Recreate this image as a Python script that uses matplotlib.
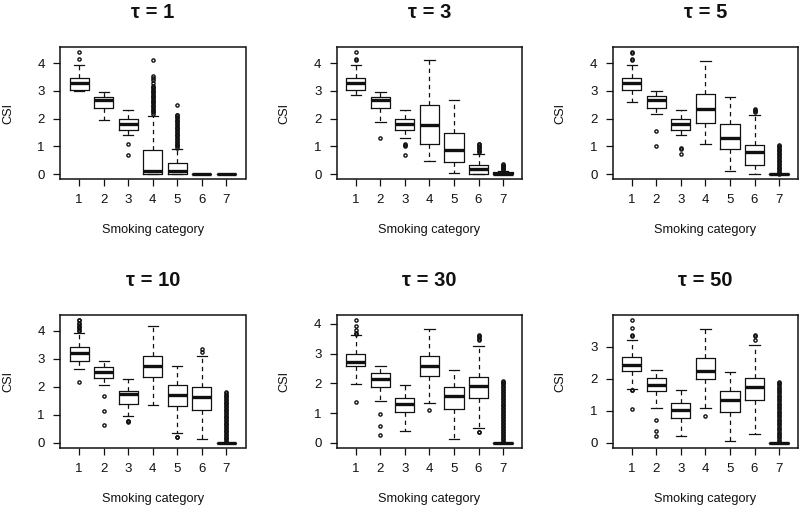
import matplotlib
matplotlib.use("Agg")
import matplotlib.pyplot as plt
from matplotlib.ticker import MultipleLocator

plt.rcParams['font.family'] = ['Liberation Sans', 'DejaVu Sans']

categories = [1, 2, 3, 4, 5, 6, 7]
taus = [1, 3, 5, 10, 30, 50]

# ---- tau = 1 ----
lo_t1 = [3.00, 1.95, 1.40, 0.00, 0.00, 0.00, 0.00]
q1_t1 = [3.02, 2.39, 1.59, 0.00, 0.00, 0.00, 0.00]
med_t1 = [3.28, 2.66, 1.82, 0.13, 0.11, 0.00, 0.00]
q3_t1 = [3.45, 2.80, 1.98, 0.87, 0.41, 0.00, 0.00]
hi_t1 = [3.93, 2.98, 2.30, 2.10, 0.92, 0.00, 0.00]
fl_t1 = [[4.14, 4.41], [], [1.10, 0.69],
         [2.18, 2.23, 2.27, 2.32, 2.36, 2.41, 2.46, 2.50, 2.55, 2.59, 2.64,
          2.68, 2.73, 2.78, 2.82, 2.87, 2.91, 2.96, 3.01, 3.05, 3.10, 3.14,
          3.19, 3.30, 3.40, 3.45, 3.54, 4.12],
         [0.95, 1.00, 1.05, 1.10, 1.15, 1.20, 1.26, 1.31, 1.36, 1.41, 1.46,
          1.51, 1.56, 1.61, 1.66, 1.71, 1.76, 1.82, 1.87, 1.92, 1.97, 2.02,
          2.07, 2.12, 2.15, 2.49],
         [], []]

# ---- tau = 3 ----
lo_t3 = [2.84, 1.88, 1.31, 0.49, 0.05, 0.00, 0.00]
q1_t3 = [3.02, 2.39, 1.59, 1.10, 0.43, 0.02, 0.00]
med_t3 = [3.28, 2.66, 1.82, 1.76, 0.86, 0.17, 0.00]
q3_t3 = [3.45, 2.80, 1.98, 2.49, 1.49, 0.33, 0.06]
hi_t3 = [3.93, 2.98, 2.30, 4.11, 2.66, 0.73, 0.13]
fl_t3 = [[4.14, 4.12, 4.41], [1.31], [1.07, 1.04, 1.00, 0.69],
         [], [],
         [0.78, 0.83, 0.88, 0.93, 0.98, 1.03, 1.07, 1.10],
         [0.15, 0.19, 0.23, 0.27, 0.31, 0.34, 0.36]]

# ---- tau = 5 ----
lo_t5 = [2.61, 2.16, 1.41, 1.10, 0.11, 0.00, 0.00]
q1_t5 = [3.02, 2.39, 1.59, 1.83, 0.92, 0.34, 0.00]
med_t5 = [3.28, 2.66, 1.82, 2.36, 1.31, 0.80, 0.00]
q3_t5 = [3.45, 2.80, 1.98, 2.88, 1.80, 1.04, 0.00]
hi_t5 = [3.93, 2.98, 2.30, 4.08, 2.76, 2.12, 0.00]
fl_t5 = [[4.14, 4.12, 4.37, 4.40], [1.55, 1.01], [0.92, 0.94, 0.71],
         [], [],
         [2.22, 2.26, 2.30, 2.34],
         [0.02, 0.07, 0.12, 0.17, 0.22, 0.27, 0.32, 0.37, 0.42, 0.47, 0.52,
          0.57, 0.62, 0.67, 0.72, 0.77, 0.82, 0.87, 0.92, 0.97, 1.01, 1.04]]

# ---- tau = 10 ----
lo_t10 = [2.64, 2.05, 0.95, 1.33, 0.34, 0.13, 0.00]
q1_t10 = [2.93, 2.31, 1.40, 2.34, 1.31, 1.16, 0.00]
med_t10 = [3.20, 2.52, 1.74, 2.72, 1.69, 1.63, 0.00]
q3_t10 = [3.40, 2.70, 1.86, 3.09, 2.06, 1.99, 0.00]
hi_t10 = [3.91, 2.90, 2.27, 4.17, 2.75, 3.08, 0.00]
fl_t10 = [[4.00, 4.03, 4.08, 4.13, 4.18, 4.22, 4.26, 4.36, 4.38, 2.15],
          [1.68, 1.12, 0.64], [0.79, 0.76, 0.73],
          [], [0.21, 0.19],
          [3.25, 3.34],
          [0.02, 0.07, 0.12, 0.17, 0.22, 0.27, 0.32, 0.37, 0.42, 0.47, 0.52,
           0.57, 0.62, 0.67, 0.72, 0.77, 0.82, 0.87, 0.92, 0.97, 1.02, 1.07,
           1.12, 1.17, 1.22, 1.27, 1.32, 1.37, 1.42, 1.47, 1.52, 1.57, 1.62,
           1.67, 1.72, 1.77, 1.81]]

# ---- tau = 30 ----
lo_t30 = [1.97, 1.42, 0.38, 1.33, 0.12, 0.49, 0.00]
q1_t30 = [2.58, 1.89, 1.04, 2.25, 1.15, 1.49, 0.00]
med_t30 = [2.73, 2.13, 1.30, 2.57, 1.58, 1.92, 0.00]
q3_t30 = [3.00, 2.34, 1.50, 2.91, 1.87, 2.22, 0.00]
hi_t30 = [3.63, 2.59, 1.93, 3.82, 2.45, 3.24, 0.00]
fl_t30 = [[3.66, 3.68, 3.78, 3.93, 4.13, 1.37], [0.96, 0.57, 0.27], [],
          [1.11], [],
          [3.46, 3.50, 3.55, 3.59, 3.63, 0.35, 0.37],
          [0.02, 0.07, 0.12, 0.17, 0.22, 0.27, 0.32, 0.37, 0.42, 0.47, 0.52,
           0.57, 0.62, 0.67, 0.72, 0.77, 0.82, 0.87, 0.92, 0.97, 1.02, 1.07,
           1.12, 1.17, 1.22, 1.27, 1.32, 1.37, 1.42, 1.47, 1.52, 1.57, 1.62,
           1.67, 1.72, 1.77, 1.82, 1.87, 1.92, 1.97, 2.01, 2.05, 2.09]]

# ---- tau = 50 ----
lo_t50 = [1.67, 1.08, 0.22, 1.08, 0.07, 0.28, 0.00]
q1_t50 = [2.24, 1.62, 0.77, 1.98, 0.96, 1.34, 0.00]
med_t50 = [2.43, 1.81, 1.03, 2.25, 1.32, 1.73, 0.00]
q3_t50 = [2.66, 2.01, 1.24, 2.64, 1.62, 2.02, 0.00]
hi_t50 = [3.21, 2.27, 1.65, 3.54, 2.20, 3.05, 0.00]
fl_t50 = [[3.33, 3.36, 3.57, 3.83, 1.65, 1.63, 1.05], [0.72, 0.38, 0.20], [],
          [0.84], [],
          [3.19, 3.33, 3.36],
          [0.02, 0.07, 0.12, 0.17, 0.22, 0.27, 0.32, 0.37, 0.42, 0.47, 0.52,
           0.57, 0.62, 0.67, 0.72, 0.77, 0.82, 0.87, 0.92, 0.97, 1.02, 1.07,
           1.12, 1.17, 1.22, 1.27, 1.32, 1.37, 1.42, 1.47, 1.52, 1.57, 1.62,
           1.67, 1.72, 1.77, 1.82, 1.87, 1.91]]

panels = [
    (lo_t1, q1_t1, med_t1, q3_t1, hi_t1, fl_t1),
    (lo_t3, q1_t3, med_t3, q3_t3, hi_t3, fl_t3),
    (lo_t5, q1_t5, med_t5, q3_t5, hi_t5, fl_t5),
    (lo_t10, q1_t10, med_t10, q3_t10, hi_t10, fl_t10),
    (lo_t30, q1_t30, med_t30, q3_t30, hi_t30, fl_t30),
    (lo_t50, q1_t50, med_t50, q3_t50, hi_t50, fl_t50),
]

W, H = 800, 511
fig = plt.figure(figsize=(W / 100, H / 100), dpi=100)

lefts = [60, 336.7, 612.7]
rows = [(47, 179), (315, 447.7)]
ax_w = 185.5

ink = '#111111'

for i, (tau, (lo, q1, med, q3, hi, fl)) in enumerate(zip(taus, panels)):
    r, c = divmod(i, 3)
    top, bot = rows[r]
    ax = fig.add_axes([lefts[c] / W, (H - bot) / H, ax_w / W, (bot - top) / H])
    stats = []
    for k in range(len(categories)):
        stats.append(dict(whislo=lo[k], q1=q1[k], med=med[k], q3=q3[k],
                          whishi=hi[k], fliers=fl[k], label=str(categories[k])))
    ax.bxp(stats, positions=categories, widths=0.78, capwidths=0.42,
           showfliers=True, manage_ticks=False,
           boxprops=dict(color=ink, linewidth=0.9),
           medianprops=dict(color=ink, linewidth=2.4, solid_capstyle='butt'),
           whiskerprops=dict(color=ink, linewidth=0.9, linestyle=(0, (3.5, 3))),
           capprops=dict(color=ink, linewidth=0.9),
           flierprops=dict(marker='o', markerfacecolor='none',
                           markeredgecolor=ink, markersize=2.3,
                           markeredgewidth=1.0, linestyle='none'))
    allv = lo + hi + [v for f in fl for v in f]
    vmin, vmax = min(allv), max(allv)
    pad = 0.04 * (vmax - vmin)
    ax.set_ylim(vmin - pad, vmax + pad)
    ax.set_xlim(0.22, 7.78)
    ax.set_xticks(categories)
    ax.set_xticklabels([str(v) for v in categories])
    ax.yaxis.set_major_locator(MultipleLocator(1))
    ax.tick_params(axis='both', direction='out', length=5, width=0.9,
                   colors=ink, labelsize=9.5, pad=6)
    for s in ax.spines.values():
        s.set_linewidth(1.1)
        s.set_color(ink)
    ax.set_xlabel('Smoking category', fontsize=9.2, color=ink, va='center')
    ax.xaxis.set_label_coords(0.5, -51 / (bot - top))
    ax.set_ylabel('CSI', fontsize=9.2, color=ink, va='center')
    ax.yaxis.set_label_coords(-52 / ax_w, 0.5)
    ax.text(0.5, 1 + 29.5 / (bot - top), '\u03c4 = %d' % tau,
            transform=ax.transAxes, ha='center', va='baseline',
            fontsize=14.5, fontweight='bold', color=ink)

fig.savefig('out.png', dpi=100)
